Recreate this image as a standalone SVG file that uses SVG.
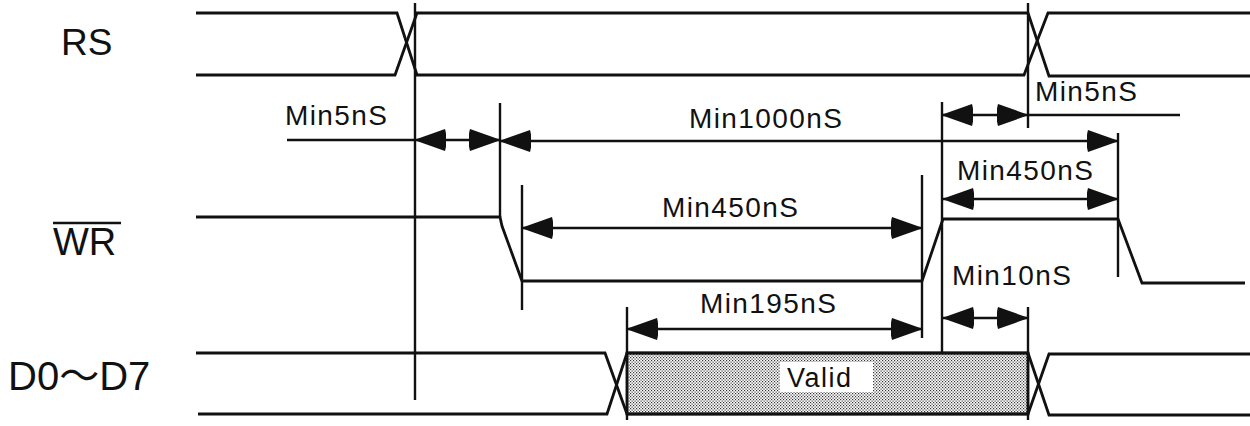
<svg xmlns="http://www.w3.org/2000/svg" width="1250" height="426" viewBox="0 0 1250 426">
<style>
.wave{fill:none;stroke:#111;stroke-width:2.8;stroke-linejoin:miter}
.guide{fill:none;stroke:#111;stroke-width:2.4}
.dim{fill:none;stroke:#111;stroke-width:2.4;marker-start:url(#ah);marker-end:url(#ah)}
.plain{fill:none;stroke:#111;stroke-width:2.4}
.lbl{font-family:"Liberation Sans",Arial,sans-serif;fill:#111}
.t{font-family:"Liberation Sans",Arial,sans-serif;font-size:28px;letter-spacing:1.4px;fill:#111}
</style>
<defs>
<marker id="ah" viewBox="0 0 32 22" refX="31" refY="11" markerWidth="32" markerHeight="22" markerUnits="userSpaceOnUse" orient="auto-start-reverse">
<path d="M32,11 L1,0 Q-2,11 1,22 Z" fill="#111"/>
</marker>
<pattern id="dots" width="3" height="3" patternUnits="userSpaceOnUse">
<rect width="3" height="3" fill="#fff"/>
<rect x="0" y="0" width="1.2" height="1.2" fill="#333"/>
<rect x="1.5" y="1.5" width="1.2" height="1.2" fill="#333"/>
</pattern>
</defs>
<rect width="1250" height="426" fill="#fff"/>

<g id="label-RS"><text class="lbl" x="61" y="55" font-size="37">RS</text></g>
<g id="label-WR"><text class="lbl" x="53" y="255" font-size="38">WR</text><line x1="53" y1="223" x2="121" y2="223" stroke="#111" stroke-width="2.4"/></g>
<g id="label-D"><text class="lbl" x="8" y="390" font-size="40" style="font-family:'Liberation Sans','Noto Sans CJK JP',sans-serif">D0～D7</text></g>

<g id="signal-RS">
<path class="wave" d="M196,13 L397,13 L417,75 L1024,75 L1048,13 L1250,13"/>
<path class="wave" d="M196,75 L395,75 L417,13 L1028,13 L1049,76 L1250,76"/>
</g>

<g id="signal-WR">
<path class="wave" d="M196,217 L500,217 L502,226 L522,281 L922,281 L943,219 L1118,219 L1142,283 L1245,283"/>
</g>

<g id="signal-D">
<rect x="627" y="353" width="401" height="61" fill="url(#dots)" stroke="#111" stroke-width="2.6"/>
<path class="wave" d="M196,353 L605,353 L627,414 L1028,414 L1049,354 L1250,354"/>
<path class="wave" d="M198,414 L607,414 L627,353 L1028,353 L1049,415 L1250,415"/>
<rect x="780" y="362" width="93" height="30" fill="#fff"/>
<text class="lbl" x="787" y="387" font-size="27" letter-spacing="1.5">Valid</text>
</g>

<g id="guides">
<line class="guide" x1="415" y1="3" x2="415" y2="400"/>
<line class="guide" x1="500" y1="103" x2="500" y2="217"/>
<line class="guide" x1="522" y1="185" x2="522" y2="310"/>
<line class="guide" x1="627" y1="307" x2="627" y2="420"/>
<line class="guide" x1="922" y1="175" x2="922" y2="338"/>
<line class="guide" x1="942" y1="102" x2="942" y2="353"/>
<line class="guide" x1="1028" y1="3" x2="1028" y2="128"/>
<line class="guide" x1="1028" y1="307" x2="1028" y2="420"/>
<line class="guide" x1="1118" y1="133" x2="1118" y2="277"/>
</g>

<g id="connectors">
<line class="plain" x1="287" y1="140" x2="415" y2="140"/>
<line class="dim" x1="415" y1="140" x2="500" y2="140"/>
<line class="dim" x1="500" y1="141" x2="1118" y2="141"/>
<line class="dim" x1="942" y1="115" x2="1028" y2="115"/>
<line class="plain" x1="1028" y1="115" x2="1180" y2="115"/>
<line class="dim" x1="522" y1="228" x2="922" y2="228"/>
<line class="dim" x1="943" y1="199" x2="1118" y2="199"/>
<line class="dim" x1="943" y1="318" x2="1028" y2="318"/>
<line class="dim" x1="627" y1="329" x2="922" y2="329"/>
</g>

<g id="timing-labels">
<text class="t" x="285" y="125">Min5nS</text>
<text class="t" x="689" y="128">Min1000nS</text>
<text class="t" x="1035" y="101">Min5nS</text>
<text class="t" x="662" y="217">Min450nS</text>
<text class="t" x="957" y="180">Min450nS</text>
<text class="t" x="952" y="285">Min10nS</text>
<text class="t" x="700" y="313">Min195nS</text>
</g>
</svg>
